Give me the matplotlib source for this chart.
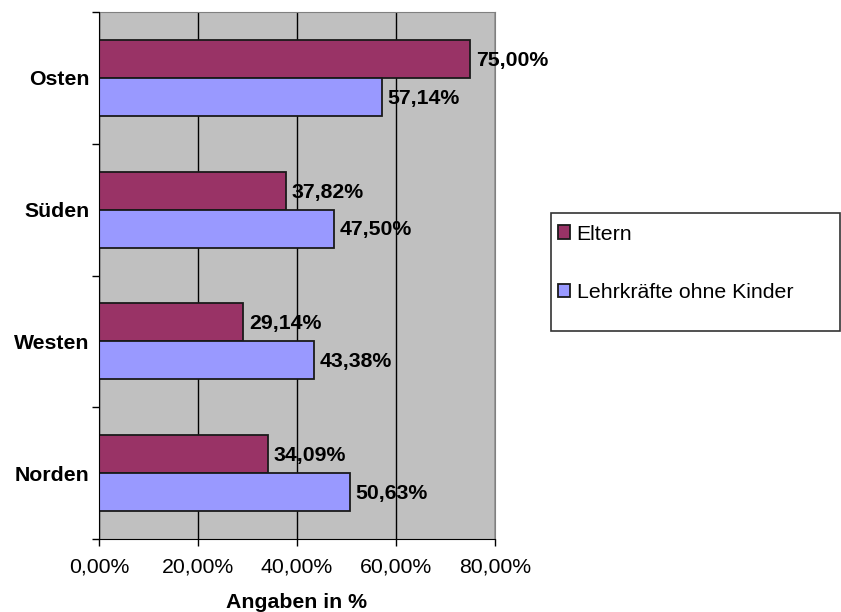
import matplotlib.pyplot as plt
from matplotlib.patches import Rectangle
import numpy as np

# daten (von oben nach unten)
regionen = ["Osten", "Süden", "Westen", "Norden"]
eltern = [75.00, 37.82, 29.14, 34.09]
lehrkraefte = [57.14, 47.50, 43.38, 50.63]
serien = ["Eltern", "Lehrkräfte ohne Kinder"]
xticks = [0, 20, 40, 60, 80]
xticklabels = ["0,00%", "20,00%", "40,00%", "60,00%", "80,00%"]

plt.rcParams['font.family'] = ['Liberation Sans', 'DejaVu Sans']
fs = 15.3

fig = plt.figure(figsize=(8.41, 6.12), dpi=100)
ax = fig.add_axes([99/841, 1 - 539/612, 396/841, 527/612])
ax.set_facecolor("#C0C0C0")

y = np.arange(len(regionen))
h = 0.288
b1 = ax.barh(y - h/2, eltern, h, color="#993366", edgecolor="#1a1a1a", lw=1.3,
             label=serien[0], zorder=3)
b2 = ax.barh(y + h/2, lehrkraefte, h, color="#9999FF", edgecolor="#1a1a1a", lw=1.3,
             label=serien[1], zorder=3)

for bars, werte in [(b1, eltern), (b2, lehrkraefte)]:
    for rect, w in zip(bars, werte):
        ax.annotate(f"{w:.2f}%".replace(".", ","),
                    (rect.get_width(), rect.get_y() + rect.get_height()/2),
                    xytext=(4, -1), textcoords="offset points",
                    va="center", ha="left", fontsize=fs, fontweight="bold", zorder=4)

ax.set_xlim(0, 80)
ax.set_ylim(len(regionen) - 0.5, -0.5)

ax.set_xticks(xticks)
ax.set_xticklabels(xticklabels, fontsize=fs)
ax.tick_params(axis="x", direction="out", length=5, width=1, pad=8)

# kategorie-grenzen als ticks, namen in der mitte
ax.set_yticks(np.arange(len(regionen) + 1) - 0.5)
ax.set_yticklabels([])
ax.tick_params(axis="y", which="major", direction="out", length=5, width=1)
ax.set_yticks(y, minor=True)
ax.set_yticklabels(regionen, minor=True, fontsize=fs, fontweight="bold")
ax.tick_params(axis="y", which="minor", length=0, pad=7)

ax.grid(axis="x", color="black", lw=1, zorder=1)
ax.set_axisbelow(True)

ax.spines["left"].set_color("black")
ax.spines["bottom"].set_color("black")
ax.spines["top"].set_color("#808080")
ax.spines["right"].set_color("#808080")
ax.spines["left"].set_zorder(5)

ax.set_xlabel("Angaben in %", fontsize=fs, fontweight="bold", labelpad=12.5)

# legende
leg = fig.legend(handles=[b1, b2], labels=serien, loc="upper left",
                 bbox_to_anchor=(547/841, 1 - 214/612), frameon=False,
                 fontsize=fs, handlelength=0.6, handleheight=0.6,
                 handletextpad=0.3, labelspacing=1.85, borderpad=0)
fig.add_artist(Rectangle((551/841, 1 - 331/612), 289/841, 118/612,
                         transform=fig.transFigure, fill=False,
                         edgecolor="#333333", lw=1.2))

plt.savefig("out.png", dpi=100)
